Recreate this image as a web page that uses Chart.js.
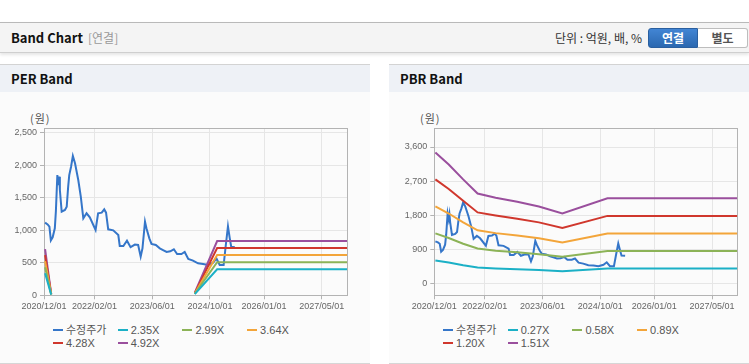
<!DOCTYPE html>
<html><head><meta charset="utf-8">
<script src="https://cdn.jsdelivr.net/npm/chart.js@4/dist/chart.umd.min.js"></script>
<style>
body{margin:0;width:749px;height:364px;background:#fff;position:relative;overflow:hidden;font-family:"Liberation Sans",Arial,"Noto Sans CJK KR",sans-serif;}
.a{position:absolute;white-space:nowrap}
#hdr{left:0;top:22px;width:749px;height:29px;background:#f4f4f4;border-top:1px solid #b9b9b9;border-bottom:1px solid #cfcfcf;box-shadow:0 2px 3px rgba(0,0,0,0.10);}
.kr{font-family:"Noto Sans CJK KR","Liberation Sans",sans-serif;}
.panel{top:64px;height:298px;background:#fbfbfb;border-top:1px solid #d3d3d3;border-bottom:1px solid #d6d6d6;}
.ptitle{top:0;left:0;right:0;height:27px;background:#eef1f6;}
.ptxt{left:11px;top:5px;font-size:13px;font-weight:bold;color:#111;line-height:18px;}
.unit{font-size:11px;color:#555;line-height:14px;letter-spacing:1px}
.leg{font-size:11px;color:#555;line-height:13px;font-family:"Liberation Sans",Arial,"Noto Sans CJK KR",sans-serif}
.leg i{display:inline-block;width:10px;height:2.5px;vertical-align:middle;margin-right:3px;margin-top:-2px}
</style></head>
<body>
<div id="hdr" class="a"></div>
<div class="a kr" style="left:11px;top:29px;font-size:13px;font-weight:bold;color:#111;line-height:18px">Band Chart</div>
<div class="a kr" style="left:88px;top:29px;font-size:12px;color:#999;line-height:18px">[연결]</div>
<div class="a kr" style="right:107px;top:29px;font-size:12px;color:#333;line-height:18px">단위 : 억원, 배, %</div>
<div class="a kr" style="left:648px;top:28px;width:50px;height:20px;background:linear-gradient(#4285d4,#2b68b0);border:1px solid #2a5f9f;border-radius:3px 0 0 3px;color:#fff;font-size:12px;font-weight:bold;text-align:center;line-height:18px;box-sizing:border-box">연결</div>
<div class="a kr" style="left:698px;top:28px;width:50px;height:20px;background:#fff;border:1px solid #bdbdbd;border-left:none;border-radius:0 3px 3px 0;color:#555;font-size:12px;font-weight:bold;text-align:center;line-height:18px;box-sizing:border-box">별도</div>

<div class="a panel" style="left:0;width:370px">
  <div class="a ptitle"><div class="a ptxt kr">PER Band</div></div>
</div>
<div class="a panel" style="left:389px;width:360px">
  <div class="a ptitle"><div class="a ptxt kr">PBR Band</div></div>
</div>

<div class="a unit kr" style="left:30px;top:111px">(원)</div>
<div class="a unit kr" style="left:420px;top:111px">(원)</div>

<canvas id="per" class="a" style="left:0;top:100px" width="370" height="220"></canvas>
<canvas id="pbr" class="a" style="left:389px;top:100px" width="360" height="220"></canvas>
<div id="legPer"></div>
<div id="legPbr"></div>

<script>
// x positions are months since 2020/12/01
const xTickMonths = [0, 14, 30, 46, 61, 77];
const xTickLabels = ['2020/12/01','2022/02/01','2023/06/01','2024/10/01','2026/01/01','2027/05/01'];
const xMax = 84;

const perYTicks = [0, 500, 1000, 1500, 2000, 2500];
const perYLabels = ['0','500','1,000','1,500','2,000','2,500'];
const pbrYTicks = [0, 900, 1800, 2700, 3600];
const pbrYLabels = ['0','900','1,800','2,700','3,600'];

// 수정주가 (adjusted price)
const priceMonths = [0.3,1.0,1.5,1.9,2.4,3.0,3.3,3.7,4.0,4.2,4.4,4.9,5.8,6.3,6.7,7.0,7.5,8.0,8.6,9.5,10.2,10.9,11.8,12.7,14.3,15.0,16.0,16.7,17.2,17.8,19.2,20.6,21.0,22.0,23.0,24.0,25.2,26.1,26.8,27.3,28.0,28.4,29.2,29.8,31.0,32.1,33.0,34.0,35.0,36.0,36.9,38.1,39.0,40.0,41.3,42.7,44.1,45.5,46.9,47.8,48.7,49.8,50.4,51.0,51.5,51.9,52.9];
const priceValues = [1118,1090,1056,845,892,1031,1300,1851,1697,1826,1620,1287,1313,1364,1672,1851,1979,2145,2031,1774,1518,1185,1262,1200,1005,1262,1272,1323,1272,1015,1000,928,759,759,841,740,780,774,595,723,1133,1031,877,790,774,723,697,667,677,708,636,636,667,559,533,492,482,467,503,569,466,466,773,1060,876,747,740];

// PER band
const perLabels = ['2.35X','2.99X','3.64X','4.28X','4.92X'];
const perMonths = [0.3, 2.0, 20, 41.8, 48.0, 84];
const per235 = [339, 10, null, 19, 400, 400];
const per299 = [431, 13, null, 24, 508, 508];
const per364 = [525, 15, null, 29, 619, 619];
const per428 = [617, 18, null, 34, 728, 728];
const per492 = [710, 20, null, 39, 836, 836];

// PBR band
const pbrLabels = ['0.27X','0.58X','0.89X','1.20X','1.51X'];
const pbrMonths = [0.3, 4, 8, 12, 17, 23, 29, 35.5, 48, 84];
const pbr027 = [618, 562, 491, 430, 405, 386, 364, 331, 402, 402];
const pbr058 = [1328, 1206, 1056, 930, 870, 829, 782, 711, 864, 864];
const pbr089 = [2038, 1851, 1620, 1410, 1335, 1273, 1200, 1090, 1326, 1326];
const pbr120 = [2748, 2496, 2184, 1880, 1800, 1716, 1618, 1470, 1788, 1788];
const pbr151 = [3458, 3141, 2748, 2378, 2265, 2159, 2035, 1850, 2250, 2250];

const colors = ['#3576c9','#1bb0c6','#8cb357','#f3a53a','#d0372d','#9a4f9d'];
const priceLabel = '수정주가';

const pts = (xs, ys) => xs.map((x, i) => ({x: x, y: ys[i]}));
const ds = (label, data, color) => ({label, data, borderColor: color, backgroundColor: color, borderWidth: 2, pointRadius: 0, tension: 0, spanGaps: false, fill: false});

const frame = {
  id: 'frame',
  beforeDatasetsDraw(chart) {
    const a = chart.chartArea, c = chart.ctx;
    c.save(); c.strokeStyle = '#b3b3b3'; c.lineWidth = 1;
    c.strokeRect(Math.round(a.left) + 0.5, Math.round(a.top) + 0.5, Math.round(a.right - a.left), Math.round(a.bottom - a.top));
    c.restore();
  }
};

const tickFont = {family: '"Liberation Sans", Arial, sans-serif', size: 9};

function makeChart(id, datasets, yMin, yMax, yTicks, yLabels, yWidth, padRight) {
  return new Chart(document.getElementById(id), {
    type: 'line',
    data: {datasets},
    options: {
      responsive: false, animation: false,
      layout: {padding: {left: 0, right: padRight, top: 28, bottom: 0}},
      plugins: {legend: {display: false}, tooltip: {enabled: false}},
      scales: {
        x: {
          type: 'linear', min: 0, max: xMax,
          afterBuildTicks: s => { s.ticks = xTickMonths.map(v => ({value: v})); },
          afterFit: s => { s.height = 24.7; s.paddingLeft = 0; s.paddingRight = 0; },
          ticks: {autoSkip: false, maxRotation: 0, minRotation: 0, padding: 2, color: '#666', font: tickFont,
                  callback: (v, i) => xTickLabels[i]},
          grid: {color: '#e6e6e6', tickLength: 4, tickColor: '#b3b3b3'},
          border: {color: '#b3b3b3'}
        },
        y: {
          type: 'linear', min: yMin, max: yMax,
          afterBuildTicks: s => { s.ticks = yTicks.map(v => ({value: v})); },
          afterFit: s => { s.width = yWidth; s.paddingTop = 0; s.paddingBottom = 0; },
          ticks: {padding: 3, color: '#666', font: tickFont, callback: (v, i) => yLabels[i]},
          grid: {color: '#e6e6e6', tickLength: 4, tickColor: '#b3b3b3'},
          border: {color: '#b3b3b3'}
        }
      }
    },
    plugins: [frame]
  });
}

const perSets = [
  ds(priceLabel, pts(priceMonths, priceValues), colors[0]),
  ds(perLabels[0], pts(perMonths, per235), colors[1]),
  ds(perLabels[1], pts(perMonths, per299), colors[2]),
  ds(perLabels[2], pts(perMonths, per364), colors[3]),
  ds(perLabels[3], pts(perMonths, per428), colors[4]),
  ds(perLabels[4], pts(perMonths, per492), colors[5])
];
const pbrSets = [
  ds(priceLabel, pts(priceMonths, priceValues), colors[0]),
  ds(pbrLabels[0], pts(pbrMonths, pbr027), colors[1]),
  ds(pbrLabels[1], pts(pbrMonths, pbr058), colors[2]),
  ds(pbrLabels[2], pts(pbrMonths, pbr089), colors[3]),
  ds(pbrLabels[3], pts(pbrMonths, pbr120), colors[4]),
  ds(pbrLabels[4], pts(pbrMonths, pbr151), colors[5])
];
// draw price on top
perSets.push(perSets.shift()); pbrSets.push(pbrSets.shift());

makeChart('per', perSets, 0, 2575, perYTicks, perYLabels, 44, 23);
makeChart('pbr', pbrSets, -300, 4100, pbrYTicks, pbrYLabels, 45.3, 11.7);

function legend(elId, x0, labels) {
  const el = document.getElementById(elId);
  const all = [priceLabel].concat(labels);
  all.forEach((lab, i) => {
    const d = document.createElement('div');
    d.className = 'a leg';
    d.style.left = (x0 + (i % 4) * 64.7) + 'px';
    d.style.top = (324 + Math.floor(i / 4) * 12.8) + 'px';
    d.innerHTML = '<i style="background:' + colors[i] + '"></i>' + lab;
    el.appendChild(d);
  });
}
legend('legPer', 53, perLabels);
legend('legPbr', 443, pbrLabels);
</script>
</body></html>
